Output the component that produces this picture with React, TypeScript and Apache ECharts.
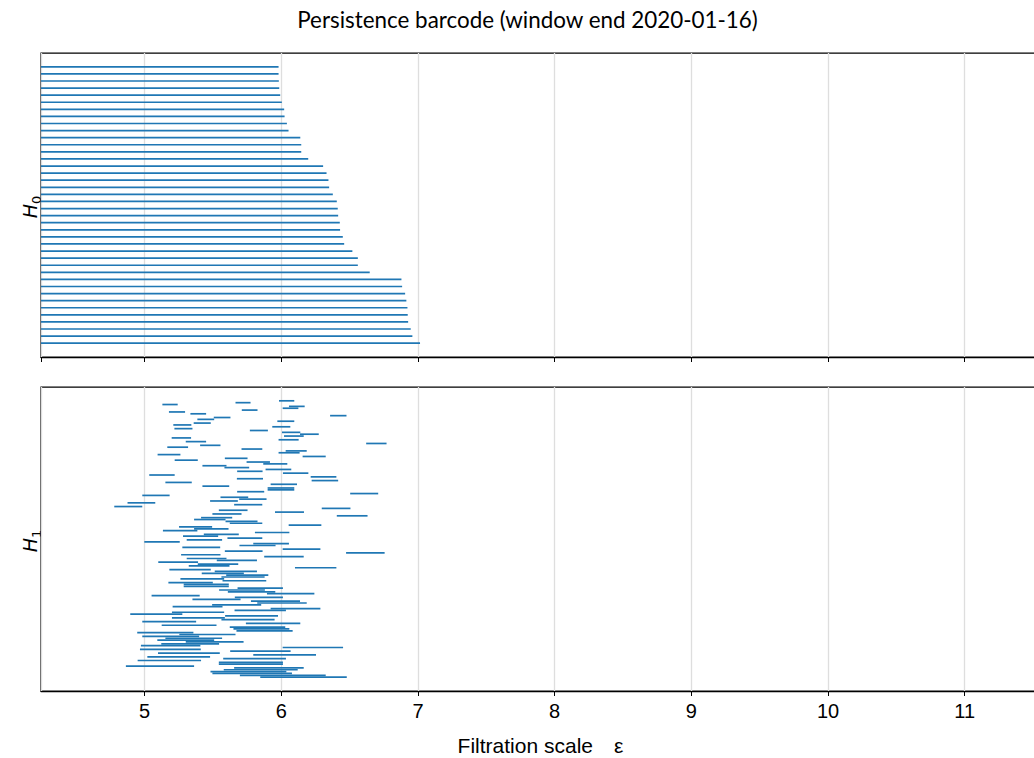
import React, { useEffect, useRef } from "react";
import * as echarts from "echarts";

const TITLE = "Persistence barcode (window end 2020-01-16)";
const X_LABEL = "Filtration scale";
const X_LABEL_SYMBOL = "ε";
const X_MIN = 4.242;
const X_MAX = 11.58;
const BAR_COLOR = "#1f77b4";

// H0 bars: birth 0, sorted by death (shortest on top)
const H0_BIRTH = 0;
const H0_DEATHS = [
  5.98, 5.98, 5.982, 5.985, 5.992, 6.004, 6.021, 6.024, 6.041, 6.053,
  6.139, 6.146, 6.146, 6.197, 6.306, 6.331, 6.345, 6.35, 6.377, 6.406,
  6.413, 6.416, 6.428, 6.43, 6.45, 6.46, 6.52, 6.56, 6.56, 6.647,
  6.879, 6.884, 6.906, 6.915, 6.923, 6.925, 6.928, 6.947, 6.959, 7.015,
];

// H1 bars (birth, death), top to bottom
const H1_BIRTHS = [
  5.983, 5.665, 5.13, 6.056, 6.01, 5.711, 5.178, 5.335, 6.357, 5.506,
  5.386, 5.971, 5.359, 5.21, 5.934, 5.218, 5.77, 6.005, 6.137, 6.02,
  5.198, 5.98, 5.301, 6.621, 5.406, 5.166, 5.709, 6.032, 5.98, 5.095,
  6.156, 5.587, 5.22, 5.746, 5.868, 5.423, 5.584, 5.885, 5.677, 6.012,
  5.034, 6.215, 5.675, 6.222, 5.152, 5.922, 5.423, 5.9, 5.9, 5.677,
  6.504, 4.983, 5.555, 5.692, 5.479, 4.875, 5.655, 4.778, 6.296, 5.543,
  5.954, 5.496, 6.406, 5.413, 5.362, 5.592, 5.623, 6.054, 5.252, 5.362,
  5.134, 5.807, 5.433, 5.281, 5.606, 5.308, 4.998, 5.795, 5.694, 5.276,
  6.01, 5.587, 6.474, 5.267, 5.875, 5.308, 5.528, 5.1, 5.389, 5.323,
  6.1, 5.181, 5.513, 5.418, 5.597, 5.562, 5.262, 5.57, 5.174, 5.286,
  5.286, 5.68, 5.545, 5.609, 5.895, 5.051, 5.66, 5.35, 5.778, 5.824,
  5.494, 5.205, 5.922, 5.658, 5.2, 4.895, 5.589, 5.2, 5.562, 4.983,
  5.741, 5.125, 5.623, 5.65, 5.672, 4.946, 5.254, 4.983, 5.152, 5.093,
  5.301, 5.122, 4.973, 6.01, 4.966, 5.626, 5.098, 5.795, 5.02, 5.575,
  4.949, 5.543, 5.543, 4.863, 5.655, 5.579, 5.482, 5.496, 5.697, 5.846,
];
const H1_DEATHS = [
  6.095, 5.775, 5.242, 6.171, 6.125, 5.826, 5.296, 5.45, 6.477, 5.628,
  5.509, 6.095, 5.484, 5.342, 6.066, 5.35, 5.902, 6.139, 6.274, 6.164,
  5.34, 6.127, 5.45, 6.77, 5.555, 5.318, 5.861, 6.186, 6.134, 5.262,
  6.325, 5.753, 5.389, 5.917, 6.044, 5.599, 5.765, 6.073, 5.863, 6.198,
  5.22, 6.403, 5.866, 6.416, 5.345, 6.115, 5.619, 6.095, 6.095, 5.875,
  6.709, 5.183, 5.758, 5.892, 5.682, 5.078, 5.861, 4.983, 6.506, 5.753,
  6.166, 5.709, 6.631, 5.641, 5.592, 5.826, 5.861, 6.293, 5.494, 5.614,
  5.386, 6.059, 5.689, 5.538, 5.861, 5.567, 5.257, 6.056, 5.958, 5.553,
  6.286, 5.863, 6.756, 5.555, 6.164, 5.599, 5.822, 5.391, 5.685, 5.621,
  6.403, 5.484, 5.822, 5.726, 5.905, 5.878, 5.582, 5.89, 5.499, 5.616,
  5.616, 6.012, 5.88, 5.956, 6.242, 5.403, 6.012, 5.702, 6.137, 6.186,
  5.853, 5.57, 6.286, 6.034, 5.582, 5.276, 5.976, 5.587, 5.951, 5.377,
  6.139, 5.526, 6.029, 6.059, 6.083, 5.357, 5.665, 5.399, 5.567, 5.509,
  5.724, 5.545, 5.408, 6.452, 5.411, 6.068, 5.55, 6.254, 5.479, 6.034,
  5.413, 6.012, 6.012, 5.362, 6.164, 6.12, 6.037, 6.078, 6.325, 6.479,
];

const X_TICK_STEP = 1;

export default function App() {
  const ref = useRef<HTMLDivElement>(null);

  useEffect(() => {
    if (!ref.current) return;
    const chart = echarts.init(ref.current, undefined, { renderer: "svg" });

    const h0Data = H0_DEATHS.map((d, i) => [H0_BIRTH, d, i]);
    const h1Data = H1_BIRTHS.map((b, i) => [b, H1_DEATHS[i], i]);
    const n0 = H0_DEATHS.length;
    const n1 = H1_BIRTHS.length;

    const renderItem = (params: any, api: any) => {
      const b = api.value(0);
      const d = api.value(1);
      const r = api.value(2);
      const p1 = api.coord([Math.max(b, X_MIN), r]);
      const p2 = api.coord([Math.min(d, X_MAX), r]);
      return {
        type: "line",
        shape: { x1: p1[0], y1: p1[1], x2: p2[0], y2: p2[1] },
        style: { stroke: BAR_COLOR, lineWidth: 1.7 },
      };
    };

    const gridLeft = 41;
    const gridWidth = 1003;
    const gridHeight = 304;

    const xAxisBase = (gridIndex: number, showLabels: boolean) => ({
      type: "value",
      gridIndex,
      min: X_MIN,
      max: X_MAX,
      minInterval: X_TICK_STEP,
      maxInterval: X_TICK_STEP,
      axisLine: { show: true, onZero: false, lineStyle: { color: "#000", width: 1.25 } },
      axisTick: { show: true, length: 5, lineStyle: { color: "#000", width: 1 } },
      axisLabel: {
        show: showLabels,
        showMinLabel: false,
        showMaxLabel: false,
        margin: 10,
        fontSize: 20,
        color: "#000",
        fontFamily: "Liberation Sans, Arial, sans-serif",
      },
      splitLine: { show: true, lineStyle: { color: "#dedede", width: 1.3 } },
    });

    const yAxisBase = (gridIndex: number, n: number) => ({
      type: "value",
      gridIndex,
      inverse: true,
      min: -(n - 1) * 0.05,
      max: (n - 1) * 1.05,
      axisLine: { show: false },
      axisTick: { show: false },
      axisLabel: { show: false },
      splitLine: { show: false },
    });

    const hLabel = (sub: string, y: number) => ({
      type: "text",
      x: 30,
      y,
      rotation: Math.PI / 2,
      style: {
        text: `{h|H}{s|${sub}}`,
        align: "center",
        verticalAlign: "middle",
        fill: "#000",
        rich: {
          h: { fontSize: 19, fontStyle: "italic", fontFamily: "DejaVu Sans", lineHeight: 26, fill: "#000" },
          s: { fontSize: 13, fontFamily: "DejaVu Sans", verticalAlign: "bottom", lineHeight: 14, fill: "#000" },
        },
      },
    });

    chart.setOption({
      animation: false,
      backgroundColor: "#fff",
      grid: [
        { left: gridLeft, top: 53, width: gridWidth, height: gridHeight, show: true, borderColor: "#000", borderWidth: 1.25, outerBoundsMode: "none", containLabel: false },
        { left: gridLeft, top: 387, width: gridWidth, height: gridHeight, show: true, borderColor: "#000", borderWidth: 1.25, outerBoundsMode: "none", containLabel: false },
      ],
      xAxis: [xAxisBase(0, false), xAxisBase(1, true)],
      yAxis: [yAxisBase(0, n0), yAxisBase(1, n1)],
      series: [
        {
          type: "custom",
          xAxisIndex: 0,
          yAxisIndex: 0,
          renderItem,
          data: h0Data,
          encode: { x: [0, 1], y: 2 },
          clip: true,
        },
        {
          type: "custom",
          xAxisIndex: 1,
          yAxisIndex: 1,
          renderItem,
          data: h1Data,
          encode: { x: [0, 1], y: 2 },
          clip: true,
        },
      ],
      graphic: [
        {
          type: "text",
          x: 527.5,
          y: 19,
          style: {
            text: TITLE,
            align: "center",
            verticalAlign: "middle",
            fontSize: 22.4,
            fontFamily: "Lato",
            fill: "#000",
          },
        },
        hLabel("0", 207),
        hLabel("1", 541),
        {
          type: "text",
          x: 593,
          y: 745,
          style: {
            text: X_LABEL,
            align: "right",
            verticalAlign: "middle",
            fontSize: 21,
            fontFamily: "Liberation Sans, Arial, sans-serif",
            fill: "#000",
          },
        },
        {
          type: "text",
          x: 614,
          y: 745,
          style: {
            text: X_LABEL_SYMBOL,
            align: "left",
            verticalAlign: "middle",
            fontSize: 21,
            fontFamily: "Liberation Sans, Arial, sans-serif",
            fill: "#000",
          },
        },
      ],
    });

    return () => chart.dispose();
  }, []);

  return (
    <div
      ref={ref}
      style={{ position: "absolute", left: 0, top: 0, width: 1034, height: 758 }}
    />
  );
}
